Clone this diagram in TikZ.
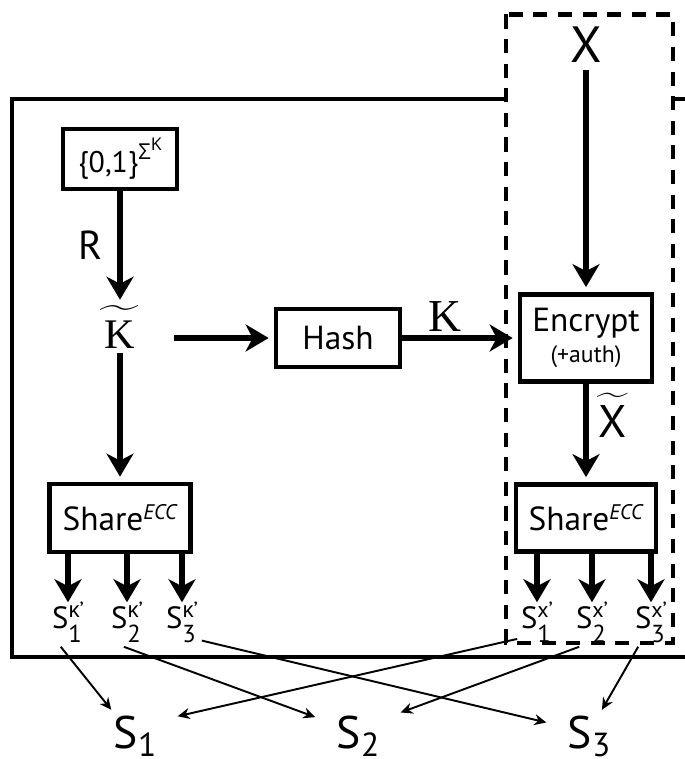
\documentclass[tikz,border=0pt]{standalone}
\usepackage[no-math]{fontspec}
\setmainfont{PT Sans}
\newfontfamily\greekfont{Open Sans}
\newfontfamily\kfont{Liberation Serif}
\usetikzlibrary{arrows.meta,positioning}
\newcommand{\sharelab}[2]{S\raisebox{-8.5pt}{\fontsize{14}{14}\selectfont\ooalign{#2\cr\raisebox{14.2pt}{\fontsize{12.5}{12.5}\selectfont #1}\cr}}}
\newcommand{\serverlab}[1]{S\raisebox{-5pt}{\fontsize{19}{19}\selectfont #1}}
\newcommand{\widetil}[5]{\ooalign{\hfil#1\hfil\cr\hidewidth\raisebox{#4}[#5][0pt]{\scalebox{#2}[#3]{$\widetilde{\phantom{\mbox{#1}}}$}}\hidewidth\cr}}

\begin{document}
\begin{tikzpicture}[x=0.02cm,y=-0.02cm,
  box/.style={rectangle,draw,line width=2.4pt,align=center,inner sep=2pt,font=\fontsize{19}{22}\selectfont},
  flow/.style={-{Stealth[length=4.6mm,width=5.4mm,inset=1.4mm]},line width=3.8pt,shorten >=3pt},
  link/.style={-{Stealth[length=2.4mm,width=2.2mm]},line width=1.1pt},
  sharelbl/.style={inner sep=2pt,anchor=base,font=\fontsize{17.5}{20}\selectfont},
  srvlbl/.style={inner xsep=12pt,inner ysep=3pt,anchor=base,font=\fontsize{26}{30}\selectfont}]
  \useasboundingbox (0,0) rectangle (684,759);
  % frames
  \draw[line width=2.8pt] (12,99) rectangle (720,657);
  \draw[line width=2.8pt,dash pattern=on 8pt off 6pt,fill=white] (506,14.5) rectangle (673,643);

  % key side
  \node[box,minimum width=2.28cm,minimum height=1.2cm,font=\fontsize{17}{20}\selectfont] (rnd) at (120,159) {\{0,1\}\raisebox{0.9ex}{\fontsize{12.5}{12.5}\selectfont\greekfont Σ\raisebox{0.75ex}{\fontsize{10}{10}\selectfont K}}};
  \node[inner xsep=22pt,inner ysep=2pt,font=\fontsize{24}{26}\selectfont] (ktil) at (120,335) {\widetil{{\kfont K}}{1.5}{2.2}{-0.7em}{1.2em}};
  \node[box,minimum width=2.48cm,minimum height=1.16cm] (hash) at (338,338) {Hash};
  \node[box,minimum width=2.82cm,minimum height=1.36cm] (shareK) at (120,518) {Share$^{\mbox{\fontsize{12}{12}\selectfont\itshape ECC}}$};
  \node[sharelbl] (sk1) at (68,628) {\sharelab{{\greekfont κ}'}{1}};
  \node[sharelbl] (sk2) at (127,628) {\sharelab{{\greekfont κ}'}{2}};
  \node[sharelbl] (sk3) at (182,628) {\sharelab{{\greekfont κ}'}{3}};

  % data side
  \node[inner sep=4pt,font=\fontsize{29}{32}\selectfont] (xin) at (586,45) {X};
  \node[box,minimum width=2.64cm,minimum height=1.74cm] (enc) at (586,338) {Encrypt\\[-4pt]{\fontsize{13.5}{15}\selectfont(+auth)}};
  \node[box,minimum width=2.8cm,minimum height=1.34cm] (shareX) at (586,518) {Share$^{\mbox{\fontsize{12}{12}\selectfont\itshape ECC}}$};
  \node[sharelbl] (sx1) at (537,628) {\sharelab{x'}{1}};
  \node[sharelbl] (sx2) at (592,628) {\sharelab{x'}{2}};
  \node[sharelbl] (sx3) at (651,628) {\sharelab{x'}{3}};

  % servers
  \node[srvlbl] (s1) at (135,748) {\serverlab{1}};
  \node[srvlbl] (s2) at (358,748) {\serverlab{2}};
  \node[srvlbl] (s3) at (589,748) {\serverlab{3}};

  \draw[flow,shorten >=10pt] (rnd) -- (ktil) node[pos=0.43,left=6pt,inner sep=2pt,font=\fontsize{23}{26}\selectfont] (rlab) {R};
  \draw[flow] (ktil.east |- hash) -- (hash);
  \draw[flow] (hash) -- (enc) node[pos=0.37,above,inner sep=2pt,font=\fontsize{26}{28}\selectfont] (klab) {\kfont K};
  \draw[flow] (xin) -- (enc);
  \draw[flow] (enc) -- (shareX) node[pos=0.38,right=5pt,inner sep=0pt,font=\fontsize{26}{30}\selectfont] (xlab) {\widetil{X}{1.2}{2}{-0.68em}{1.0em}};
  \draw[flow] (ktil) -- (shareK);
  \foreach \i in {1,2,3} {
    \draw[flow,shorten >=0pt] (shareK.south -| sk\i.north) -- (sk\i.north);
    \draw[flow,shorten >=0pt] (shareX.south -| sx\i.north) -- (sx\i.north);
  }

  \draw[link] (sk1.252) -- (s1.132);
  \draw[link] (sk2.262) -- (s2.156);
  \draw[link] (sk3.321) -- (s3.162);
  \draw[link] (sx1.216) -- (s1.25);
  \draw[link] (sx2.240) -- (s2.29);
  \draw[link] (sx3.240) -- (s3.64);
\end{tikzpicture}
\end{document}
